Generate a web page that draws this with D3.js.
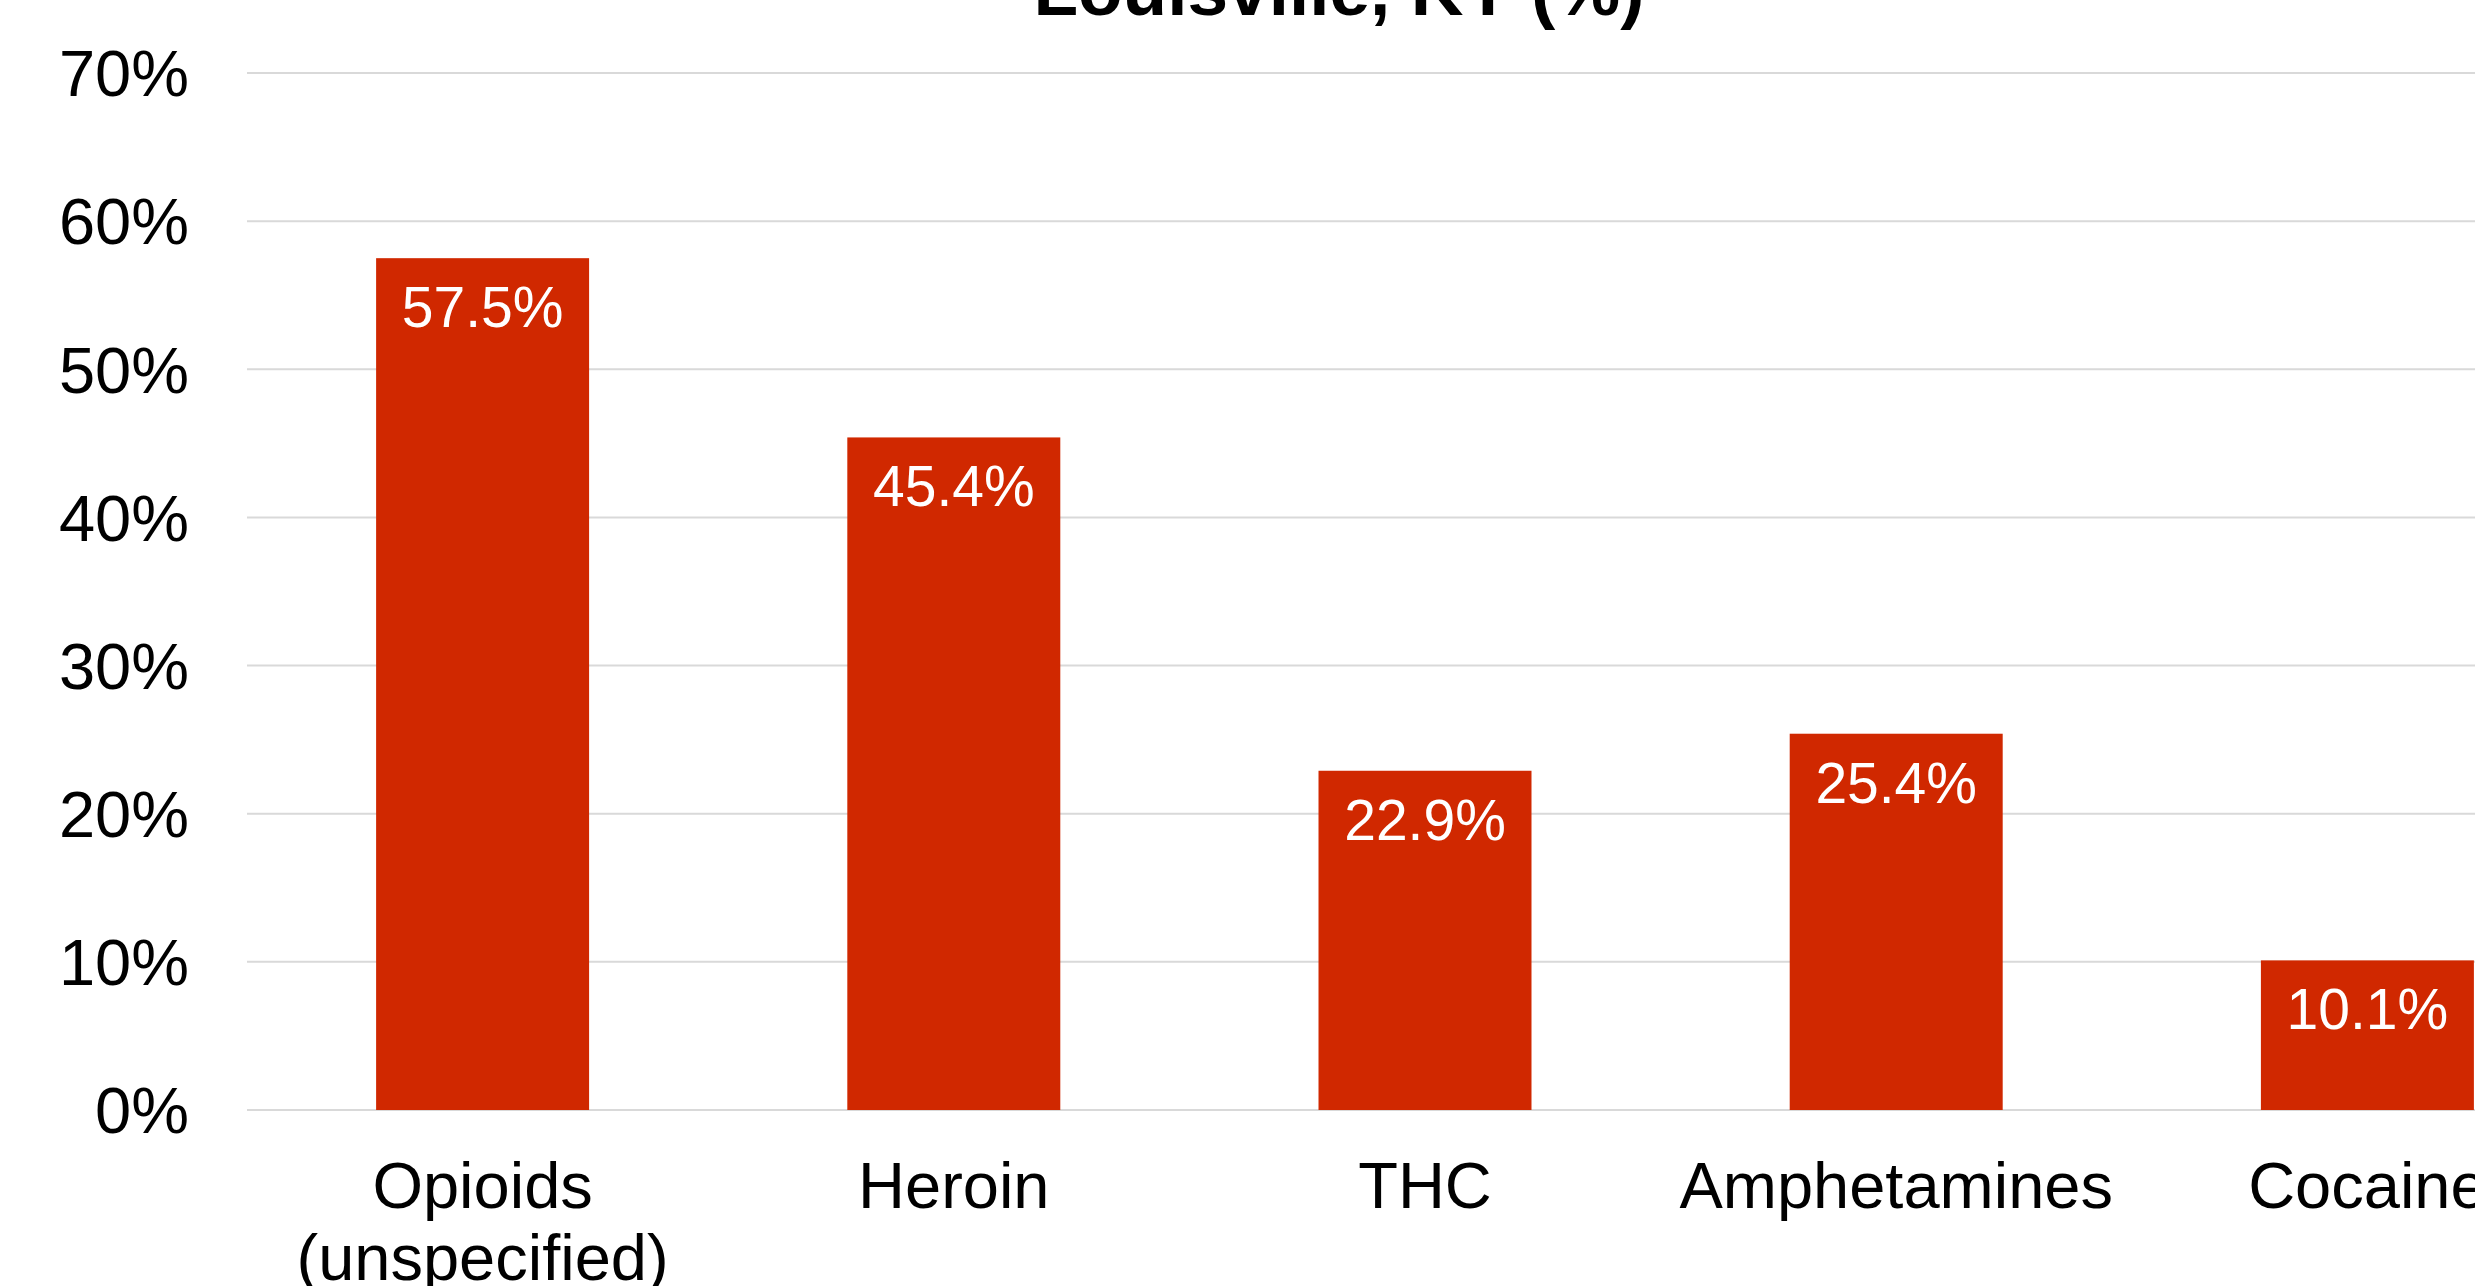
<!DOCTYPE html>
<html>
<head>
<meta charset="utf-8">
<script src="https://cdn.jsdelivr.net/npm/d3@7"></script>
<style>
  html, body { margin: 0; padding: 0; background: #ffffff; overflow: hidden; }
  svg { display: block; }
  text { font-family: "Liberation Sans", Arial, sans-serif; }
</style>
</head>
<body>
<svg id="chart" width="2475" height="1286"></svg>
<script>
const categories = ["Opioids\n(unspecified)", "Heroin", "THC", "Amphetamines", "Cocaine"];
const values = [57.5, 45.4, 22.9, 25.4, 10.1];
const yTicks = [0, 10, 20, 30, 40, 50, 60, 70];
const titleText = "Louisville, KY (%)";

const svg = d3.select("#chart");

const x = d3.scaleBand()
  .domain(categories)
  .range([247, 2603])
  .paddingInner(0.548)
  .paddingOuter(0.274);

const y = d3.scaleLinear()
  .domain([0, 70])
  .range([1110, 73]);

// gridlines
svg.append("g")
  .selectAll("line")
  .data(yTicks)
  .join("line")
  .attr("x1", 247)
  .attr("x2", 2475)
  .attr("y1", d => y(d))
  .attr("y2", d => y(d))
  .attr("stroke", "#d9d9d9")
  .attr("stroke-width", 2);

// y axis labels
const yAxis = d3.axisLeft(y).tickValues(yTicks).tickFormat(d => d + "%").tickSize(0).tickPadding(0);
const yg = svg.append("g").attr("transform", "translate(189,0)").call(yAxis);
yg.select(".domain").remove();
yg.selectAll("text")
  .attr("font-size", 65)
  .attr("fill", "#000")
  .attr("dy", "0.35em")
  .style("font-family", "'Liberation Sans', Arial, sans-serif");

// bars
svg.append("g")
  .selectAll("rect")
  .data(values)
  .join("rect")
  .attr("x", (d, i) => x(categories[i]))
  .attr("width", x.bandwidth())
  .attr("y", d => y(d))
  .attr("height", d => y(0) - y(d))
  .attr("fill", "#d02800");

// value labels
svg.append("g")
  .selectAll("text")
  .data(values)
  .join("text")
  .attr("x", (d, i) => x(categories[i]) + x.bandwidth() / 2)
  .attr("y", d => y(d) + 69)
  .attr("text-anchor", "middle")
  .attr("font-size", 57)
  .attr("fill", "#ffffff")
  .text(d => d.toFixed(1) + "%");

// x axis labels
const xg = svg.append("g");
categories.forEach(c => {
  const lines = c.split("\n");
  const t = xg.append("text")
    .attr("x", x(c) + x.bandwidth() / 2)
    .attr("y", 1208)
    .attr("text-anchor", "middle")
    .attr("font-size", 65)
    .attr("fill", "#000");
  lines.forEach((ln, k) => {
    t.append("tspan")
      .attr("x", x(c) + x.bandwidth() / 2)
      .attr("dy", k === 0 ? 0 : 72)
      .text(ln);
  });
});

// title (partially cropped at top)
svg.append("text")
  .attr("x", 1339)
  .attr("y", 15)
  .attr("text-anchor", "middle")
  .attr("font-size", 73)
  .attr("font-weight", "bold")
  .attr("fill", "#000")
  .text(titleText);
</script>
</body>
</html>
